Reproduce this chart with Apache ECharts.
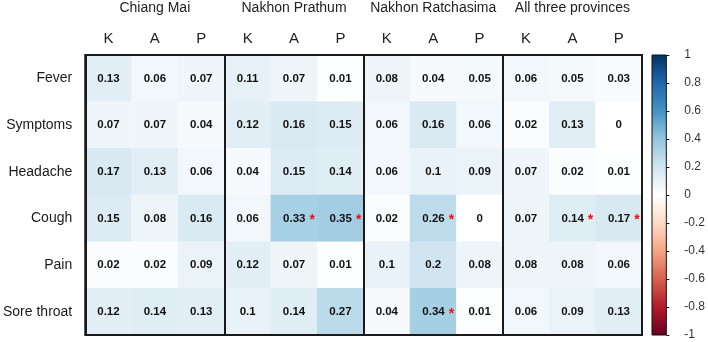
<!DOCTYPE html>
<html>
	<head>
		<meta charset="utf-8">
		<title></title>
	</head>
	<body style="margin:0;">
		<div id="container" style="width: 708px;height:342px;"></div>
	</body>
	<script src="https://cdn.jsdelivr.net/npm/echarts@6/dist/echarts.min.js"></script>
	<script type="text/javascript">
		'use strict'

		var groups = ['Chiang Mai', 'Nakhon Prathum', 'Nakhon Ratchasima', 'All three provinces'];
		var cols = ['K', 'A', 'P', 'K', 'A', 'P', 'K', 'A', 'P', 'K', 'A', 'P'];
		var rows = ['Fever', 'Symptoms', 'Headache', 'Cough', 'Pain', 'Sore throat'];

		// K, A, P per row for each province
		var chiangMai = [[0.13, 0.06, 0.07], [0.07, 0.07, 0.04], [0.17, 0.13, 0.06], [0.15, 0.08, 0.16], [0.02, 0.02, 0.09], [0.12, 0.14, 0.13]];
		var nakhonPrathum = [[0.11, 0.07, 0.01], [0.12, 0.16, 0.15], [0.04, 0.15, 0.14], [0.06, 0.33, 0.35], [0.12, 0.07, 0.01], [0.1, 0.14, 0.27]];
		var nakhonRatchasima = [[0.08, 0.04, 0.05], [0.06, 0.16, 0.06], [0.06, 0.1, 0.09], [0.02, 0.26, 0], [0.1, 0.2, 0.08], [0.04, 0.34, 0.01]];
		var allThree = [[0.06, 0.05, 0.03], [0.02, 0.13, 0], [0.07, 0.02, 0.01], [0.07, 0.14, 0.17], [0.08, 0.08, 0.06], [0.06, 0.09, 0.13]];
		// significant cells (*) as [column, row]
		var significant = [[4, 3], [5, 3], [7, 3], [7, 5], [10, 3], [11, 3]];

		var scaleTicks = [-1, -0.8, -0.6, -0.4, -0.2, 0, 0.2, 0.4, 0.6, 0.8, 1];
		var palette = ['#67001F', '#B2182B', '#D6604D', '#F4A582', '#FDDBC7', '#FFFFFF', '#D1E5F0', '#92C5DE', '#4393C3', '#2166AC', '#053061'];

		var provinces = [chiangMai, nakhonPrathum, nakhonRatchasima, allThree];
		var cells = [];
		provinces.forEach(function(prov, g) {
			prov.forEach(function(vals, r) {
				vals.forEach(function(v, k) {
					var c = g * 3 + k;
					var sig = significant.some(function(s) { return s[0] === c && s[1] === r; }) ? 1 : 0;
					cells.push([c, r, v, sig]);
				});
			});
		});

		var font = 'Liberation Sans, Arial, sans-serif';
		var stops = palette.slice().reverse().map(function(c, i) {
			return { offset: i / (palette.length - 1), color: c };
		});

		var myCharts = echarts.init(document.getElementById('container'));
		var option = {
			animation: false,
			textStyle: { fontFamily: font },
			grid: [{
				left: 82, top: 55, width: 560, height: 280,
				show: true, borderColor: '#1a1a1a', borderWidth: 2, z: 10
			}, {
				left: 652, top: 55, width: 21, height: 280
			}],
			visualMap: {
				type: 'continuous', show: false, min: -1, max: 1,
				dimension: 2, seriesIndex: 0,
				inRange: { color: palette }
			},
			xAxis: [{
				type: 'category', data: cols, position: 'top', gridIndex: 0,
				axisLine: { show: false }, axisTick: { show: false },
				axisLabel: { fontSize: 15, color: '#222', margin: 9, interval: 0 }
			}, {
				type: 'category', data: groups, position: 'top', gridIndex: 0, z: 10,
				axisLine: { show: false }, axisTick: { show: false },
				axisLabel: { fontSize: 14, color: '#222', margin: 40, interval: 0 },
				splitLine: { show: true, interval: 0, lineStyle: { color: '#1a1a1a', width: 2 } }
			}, {
				type: 'category', data: [''], gridIndex: 1, show: false
			}],
			yAxis: [{
				type: 'category', data: rows, inverse: true, gridIndex: 0,
				axisLine: { show: false }, axisTick: { show: false },
				axisLabel: { fontSize: 14, color: '#1a1a1a', margin: 13, interval: 0 }
			}, {
				type: 'value', gridIndex: 1, position: 'right', min: -1, max: 1, interval: 0.2,
				axisLine: { show: false },
				axisTick: { show: true, length: 3, lineStyle: { color: '#111' } },
				splitLine: { show: false },
				axisLabel: { fontSize: 12, color: '#333', margin: 18 }
			}],
			series: [{
				type: 'heatmap',
				xAxisIndex: 0, yAxisIndex: 0,
				data: cells,
				label: {
					show: true,
					formatter: function(p) {
						var s = String(p.data[2]);
						return p.data[3] ? '{p|}{v|' + s + '}{s|*}' : '{v|' + s + '}';
					},
					rich: {
						v: { fontSize: 11.5, fontWeight: 'bold', color: '#111', fontFamily: font },
						p: { width: 10 },
						s: { fontSize: 14, fontWeight: 'bold', color: '#f01010', padding: [4, 0, 0, 4], fontFamily: font }
					}
				}
			}, {
				// colour scale bar
				type: 'custom',
				xAxisIndex: 2, yAxisIndex: 1,
				data: [[0, scaleTicks[0], scaleTicks[scaleTicks.length - 1]]],
				renderItem: function(params, api) {
					var top = api.coord([api.value(0), api.value(2)]);
					var bot = api.coord([api.value(0), api.value(1)]);
					var w = api.size([1, 0])[0];
					return {
						type: 'rect',
						shape: { x: top[0] - w / 2, y: top[1], width: w, height: bot[1] - top[1] },
						style: {
							fill: new echarts.graphic.LinearGradient(0, 0, 0, 1, stops),
							stroke: '#111', lineWidth: 1
						}
					};
				}
			}]
		};
		myCharts.setOption(option);
	</script>
</html>
